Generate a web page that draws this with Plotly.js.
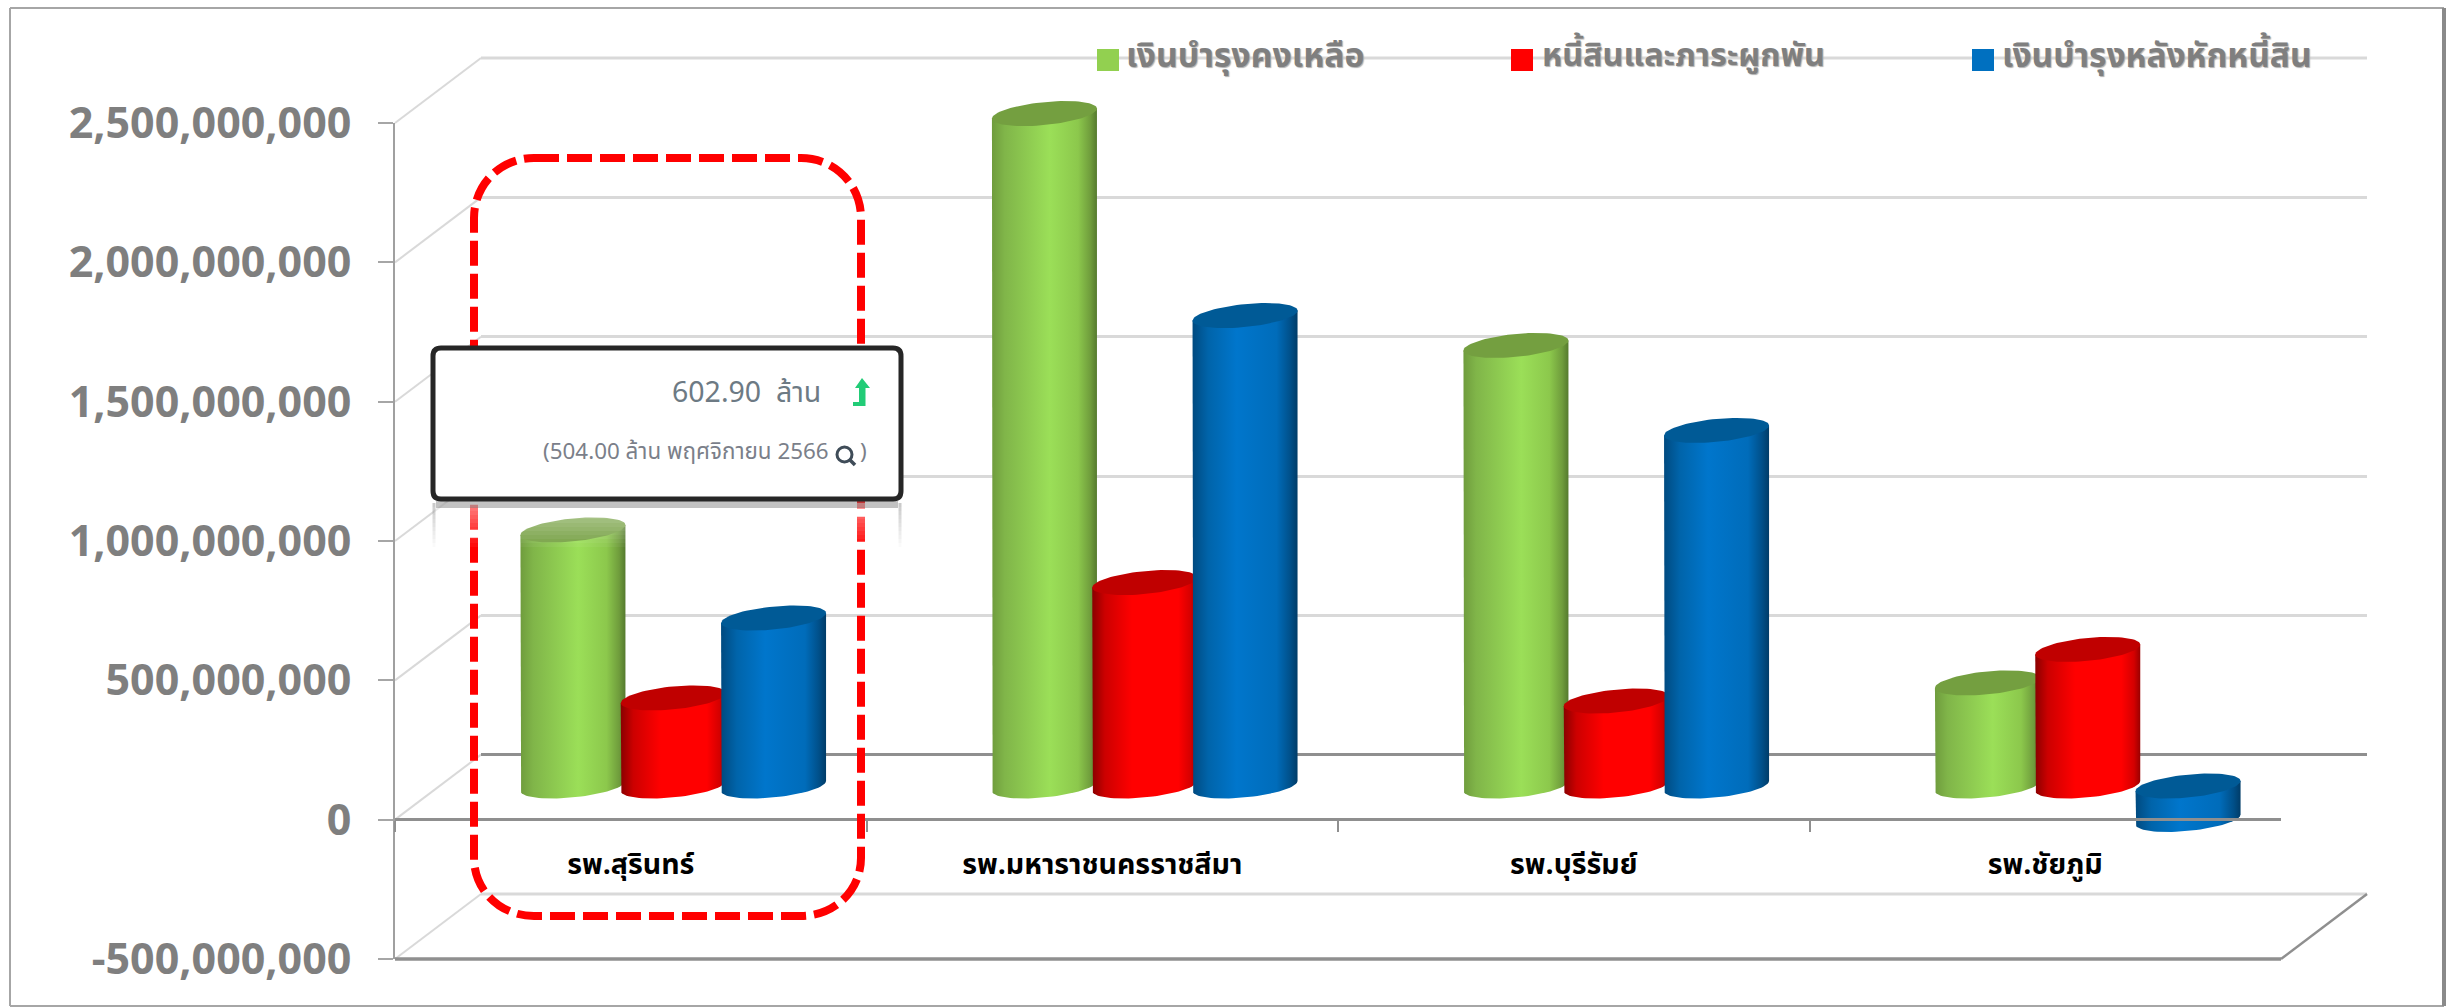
<!DOCTYPE html>
<html>
<head>
<meta charset="utf-8">
<script src="https://cdn.plot.ly/plotly-3.0.1.min.js"></script>
<style>html,body{margin:0;padding:0;background:#fff}#chart{width:2450px;height:1007px}</style>
</head>
<body>
<div id="chart"></div>
<script>
const categories = ['รพ.สุรินทร์', 'รพ.มหาราชนครราชสีมา', 'รพ.บุรีรัมย์', 'รพ.ชัยภูมิ'];
const seriesNames = ['เงินบำรุงคงเหลือ', 'หนี้สินและภาระผูกพัน', 'เงินบำรุงหลังหักหนี้สิน'];
const balance = [919000000, 2413000000, 1581000000, 370000000];
const liabilities = [316000000, 730000000, 305000000, 490000000];
const afterLiabilities = [602900000, 1688000000, 1276000000, -120000000];
const tickValues = [-500000000, 0, 500000000, 1000000000, 1500000000, 2000000000, 2500000000];
const tickLabels = ['-500,000,000', '0', '500,000,000', '1,000,000,000', '1,500,000,000', '2,000,000,000', '2,500,000,000'];

const W = 2450, H = 1007;
const THAI = '"Noto Sans Thai","Noto Sans","DejaVu Sans",sans-serif';
const px = x => x / W, py = y => 1 - y / H;
const dom = (a, b) => [px(a), px(b)];
const domY = (top, bottom) => [py(bottom), py(top)];
const range = [-500000000, 2500000000];
const unitsPerPx = 500000000 / 139.33;
const xUnitPerPx = 1 / 471.5;

const looks = [
  {values: balance, offset: -100.3, cap: '#749f40',
   grad: [[0,'#6f9c3d'],[0.12,'#80b549'],[0.55,'#9bdf58'],[0.82,'#8cc84c'],[0.94,'#6f9c3c'],[1,'#557a2e']], solid: '#92d050'},
  {values: liabilities, offset: 0, cap: '#c00000',
   grad: [[0,'#8a0000'],[0.12,'#cc0000'],[0.38,'#ff0000'],[0.82,'#ff0000'],[0.94,'#d40000'],[1,'#9a0000']], solid: '#ff0000'},
  {values: afterLiabilities, offset: 100.3, cap: '#005a96',
   grad: [[0,'#004a80'],[0.15,'#0064aa'],[0.42,'#0076cc'],[0.8,'#006cba'],[0.93,'#00508a'],[1,'#003c68']], solid: '#0070c0'}
];

const halfW = 52.5 * xUnitPerPx, capB = 11.5 * unitsPerPx, capS = 5 * unitsPerPx;
function arc(cx, v, from, to, n) {
  const xs = [], ys = [];
  for (let i = 0; i <= n; i++) {
    const t = from + (to - from) * i / n;
    xs.push(cx + halfW * Math.cos(t));
    ys.push(v + capS * Math.cos(t) + capB * Math.sin(t));
  }
  return [xs, ys];
}

const traces = [];
// back wall (first subplot, drawn lowest)
traces.push({type: 'scatter', x: [1], y: [0], xaxis: 'x', yaxis: 'y', mode: 'none', hoverinfo: 'skip', showlegend: false});
// real bars carrying the values, hidden behind the cylinder skins
looks.forEach((s, i) => {
  traces.push({type: 'bar', name: seriesNames[i], x: [1, 2, 3, 4], y: s.values, xaxis: 'x2', yaxis: 'y2',
    width: 0.16, offset: s.offset * xUnitPerPx - 0.08, marker: {color: s.solid, line: {width: 0}}, showlegend: false});
});
// cylinder skins and caps
looks.forEach((s, i) => {
  s.values.forEach((v, k) => {
    const cx = (k + 1) + s.offset * xUnitPerPx;
    const hi = Math.max(v, 0), lo = Math.min(v, 0);
    const bottom = arc(cx, lo, Math.PI, 2 * Math.PI, 40);
    const leftTopY = hi - capS, rightTopY = hi + capS;
    traces.push({type: 'scatter', mode: 'lines', line: {width: 0}, hoverinfo: 'skip', showlegend: false,
      xaxis: 'x2', yaxis: 'y2', fill: 'toself',
      x: [cx - halfW, ...bottom[0], cx + halfW, cx - halfW],
      y: [leftTopY, ...bottom[1], rightTopY, leftTopY],
      fillcolor: s.solid,
      fillgradient: {type: 'horizontal', colorscale: s.grad, start: cx - halfW, stop: cx + halfW}});
    const cap = arc(cx, hi, 0, 2 * Math.PI, 80);
    traces.push({type: 'scatter', mode: 'lines', line: {width: 0}, hoverinfo: 'skip', showlegend: false,
      xaxis: 'x2', yaxis: 'y2', fill: 'toself', fillcolor: s.cap, x: cap[0], y: cap[1]});
  });
});
// front axes (last subplot, line passes over the negative cylinder)
traces.push({type: 'scatter', x: categories, y: [0, 0, 0, 0], xaxis: 'x3', yaxis: 'y3', mode: 'none', hoverinfo: 'skip', showlegend: false});

const GRID = '#d9d9d9', AXIS = '#8f8f8f';
const shapes = [];
function seg(x0, y0, x1, y1, color, width, layer, dash) {
  shapes.push({type: 'line', xref: 'paper', yref: 'paper', x0: px(x0), y0: py(y0), x1: px(x1), y1: py(y1),
    line: {color, width, dash: dash || 'solid'}, layer: layer || 'below'});
}
function poly(d, fill, lineColor, lineWidth, layer, dash) {
  shapes.push({type: 'path', xref: 'paper', yref: 'paper', path: d, fillcolor: fill,
    line: {color: lineColor, width: lineWidth, dash: dash || 'solid'}, layer: layer || 'above'});
}
const P = (x, y) => px(x) + ',' + py(y);
function roundRect(l, t, r, b, c) {
  return 'M' + P(l + c, t) + ' L' + P(r - c, t) + ' Q' + P(r, t) + ' ' + P(r, t + c) +
    ' L' + P(r, b - c) + ' Q' + P(r, b) + ' ' + P(r - c, b) +
    ' L' + P(l + c, b) + ' Q' + P(l, b) + ' ' + P(l, b - c) +
    ' L' + P(l, t + c) + ' Q' + P(l, t) + ' ' + P(l + c, t) + ' Z';
}
// outer frame
seg(10, 8, 2444, 8, '#a6a6a6', 2);
seg(10, 8, 10, 1006, '#a6a6a6', 2);
seg(10, 1006, 2444, 1006, '#a6a6a6', 2);
seg(2444, 8, 2444, 1006, '#8a8a8a', 4);
// back wall edges that the axis grid leaves out at the range ends
seg(481, 58, 2367, 58, GRID, 3);
seg(481, 894, 2367, 894, GRID, 3);
// side wall and floor
tickValues.forEach((_, i) => {
  const yf = 959 - i * 139.33;
  seg(395, yf, 481, yf - 65, GRID, 2);
});
seg(395, 959, 2281, 959, AXIS, 3.5);
seg(2281, 959, 2367, 894, AXIS, 2.5);

// dashed highlight
poly('M' + P(474 + 60, 158) + ' L' + P(861 - 60, 158) + ' C' + P(835, 158) + ' ' + P(861, 185) + ' ' + P(861, 218) +
  ' L' + P(861, 858) + ' C' + P(861, 890) + ' ' + P(835, 916) + ' ' + P(801, 916) +
  ' L' + P(534, 916) + ' C' + P(500, 916) + ' ' + P(474, 890) + ' ' + P(474, 858) +
  ' L' + P(474, 218) + ' C' + P(474, 185) + ' ' + P(500, 158) + ' ' + P(534, 158) + ' Z',
  'rgba(0,0,0,0)', '#ff0000', 8, 'above', '25px,8px');

// reflection under the tooltip
for (let i = 0; i < 11; i++) {
  const a = 0.5 - i * 0.045;
  shapes.push({type: 'rect', xref: 'paper', yref: 'paper', x0: px(434), x1: px(900), y0: py(503 + i * 4), y1: py(507 + i * 4),
    fillcolor: 'rgba(255,255,255,' + a + ')', line: {width: 0}, layer: 'above'});
  seg(434, 503 + i * 4, 434, 507 + i * 4, 'rgba(150,150,150,' + a + ')', 3, 'above');
  seg(900, 503 + i * 4, 900, 507 + i * 4, 'rgba(150,150,150,' + a + ')', 3, 'above');
}
shapes.push({type: 'rect', xref: 'paper', yref: 'paper', x0: px(436), x1: px(898), y0: py(501), y1: py(508),
  fillcolor: 'rgba(120,120,120,0.45)', line: {width: 0}, layer: 'above'});
// tooltip box
poly(roundRect(433, 348, 901, 499, 8), '#ffffff', '#262626', 5);
// arrow icon
poly('M' + P(862, 378) + ' L' + P(870, 388) + ' L' + P(865.5, 388) + ' L' + P(865.5, 406) + ' L' + P(853, 406) +
  ' L' + P(853, 402) + ' L' + P(859, 402) + ' L' + P(859, 388) + ' L' + P(855, 388) + ' Z', '#22cc77', 'rgba(0,0,0,0)', 0);
// magnifier icon
shapes.push({type: 'circle', xref: 'paper', yref: 'paper', x0: px(837), x1: px(852), y0: py(447), y1: py(462),
  line: {color: '#3f4c58', width: 3}, fillcolor: 'rgba(0,0,0,0)', layer: 'above'});
seg(849, 459, 855, 465, '#3f4c58', 3.5, 'above');

// legend
const legendSpots = [[1097, 1124, 33.8], [1511, 1540, 32.4], [1972, 2000, 33.5]];
const annotations = [];
legendSpots.forEach((p, i) => {
  shapes.push({type: 'rect', xref: 'paper', yref: 'paper', x0: px(p[0]), x1: px(p[0] + 22), y0: py(49), y1: py(71),
    fillcolor: looks[i].solid, line: {width: 0}, layer: 'above'});
  annotations.push({xref: 'paper', yref: 'paper', x: px(p[1]), y: py(57), xanchor: 'left', yanchor: 'middle', showarrow: false,
    text: '<b>' + seriesNames[i] + '</b>', font: {family: THAI, size: p[2], color: '#7f7f7f', shadow: '1px 1px 1px #b0b0b0'}});
});
annotations.push({xref: 'paper', yref: 'paper', x: px(823), y: py(393), xanchor: 'right', yanchor: 'middle', showarrow: false,
  text: '602.90  ล้าน', font: {family: THAI, size: 28.5, color: '#6d7a84'}});
annotations.push({xref: 'paper', yref: 'paper', x: px(831), y: py(452), xanchor: 'right', yanchor: 'middle', showarrow: false,
  text: '(504.00 ล้าน พฤศจิกายน 2566', font: {family: THAI, size: 22.4, color: '#7b7f8a'}});
annotations.push({xref: 'paper', yref: 'paper', x: px(869), y: py(452), xanchor: 'right', yanchor: 'middle', showarrow: false,
  text: ')', font: {family: THAI, size: 22.4, color: '#7b7f8a'}});

const layout = {
  width: W, height: H,
  margin: {l: 0, r: 0, t: 0, b: 0, pad: 0},
  paper_bgcolor: '#ffffff', plot_bgcolor: 'rgba(0,0,0,0)',
  showlegend: false, barmode: 'overlay', hovermode: 'closest',
  xaxis: {domain: dom(481, 2367), range: [0.5, 4.5], anchor: 'y', visible: false, fixedrange: true},
  yaxis: {domain: domY(58, 894), range, anchor: 'x', tickvals: tickValues, showticklabels: false, ticks: '',
    showgrid: true, gridcolor: GRID, gridwidth: 3, zeroline: true, zerolinecolor: AXIS, zerolinewidth: 3, showline: false, fixedrange: true},
  xaxis2: {domain: dom(437.5, 2323.5), range: [0.5, 4.5], anchor: 'y2', visible: false, fixedrange: true},
  yaxis2: {domain: domY(89.33, 925.33), range, anchor: 'x2', visible: false, fixedrange: true},
  xaxis3: {domain: dom(395, 2281), type: 'category', categoryorder: 'array', categoryarray: categories, range: [-0.5, 3.5],
    anchor: 'free', position: py(819), tickson: 'boundaries', ticks: 'outside', ticklen: 11, tickwidth: 1.5, tickcolor: AXIS,
    showline: true, linecolor: AXIS, linewidth: 3, showgrid: false, zeroline: false, fixedrange: true,
    ticklabelstandoff: 19,
    tickfont: {family: THAI, size: 28.5, color: '#000000', weight: 'bold'}},
  yaxis3: {domain: domY(123, 959), range, anchor: 'x3', side: 'left', tickvals: tickValues, ticktext: tickLabels,
    ticks: 'outside', ticklen: 15, tickwidth: 2, tickcolor: '#a6a6a6', showline: true, linecolor: '#a0a0a0', linewidth: 2,
    showgrid: false, zeroline: false, fixedrange: true, ticklabelstandoff: 18,
    tickfont: {family: '"Noto Sans","Open Sans",sans-serif', size: 43, color: '#7f7f7f', weight: 'bold'}},
  shapes, annotations
};
Plotly.newPlot('chart', traces, layout, {displayModeBar: false, responsive: false});
</script>
</body>
</html>
